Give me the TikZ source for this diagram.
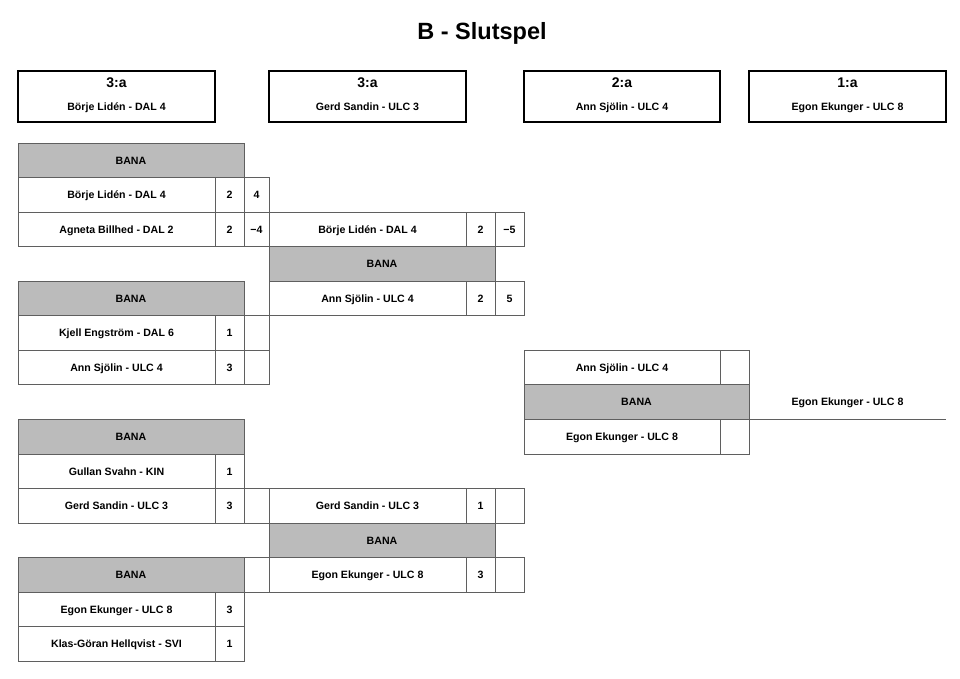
\documentclass[tikz,border=0pt]{standalone}
\usepackage{fontspec}
\setmainfont{Liberation Sans}
\definecolor{gridline}{RGB}{95,95,95}
\definecolor{banagray}{RGB}{187,187,187}
\tikzset{
  cell/.style={draw=gridline, line width=0.8pt, fill=white, inner sep=0pt, outer sep=0pt, text height=7.7pt, text depth=0pt, font=\bfseries\fontsize{10.6}{12}\selectfont},
  banacell/.style={cell, fill=banagray},
  placebox/.style={draw=black, line width=1.3pt, inner sep=0pt, outer sep=0pt},
  firstbox/.style={placebox, line width=2pt},
  placetxt/.style={font=\bfseries\fontsize{14}{16}\selectfont, inner sep=0pt, text height=10pt, text depth=0pt},
  nametxt/.style={font=\bfseries\fontsize{10.6}{12}\selectfont, inner sep=0pt, text height=7.7pt, text depth=0pt},
  titletxt/.style={font=\bfseries\fontsize{23.5}{27}\selectfont, inner sep=0pt},
  finalline/.style={draw=gridline, line width=0.8pt}
}
% #1 style, #2 name, #3 x1, #4 y1, #5 x2, #6 y2, #7 text
\newcommand\cellbox[7]{%
  \pgfmathsetmacro\cbw{#5-#3}\pgfmathsetmacro\cbh{#6-#4}%
  \node[#1, anchor=north west, minimum width=\cbw pt, minimum height=\cbh pt] (#2) at (#3,#4) {#7};}
\begin{document}
\begin{tikzpicture}[x=1pt, y=-1pt]
\useasboundingbox (0,0) rectangle (960,678);
% title
\node[titletxt] (title) at (482,33) {B - Slutspel};
% placement boxes
\cellbox{placebox}{p3a}{18}{71}{215}{122}{}
\cellbox{placebox}{p3b}{269}{71}{466}{122}{}
\cellbox{placebox}{p2}{524}{71}{720}{122}{}
\cellbox{firstbox}{p1}{749}{71}{946}{122}{}
\node[placetxt] (p3aT) at (116.5,82) {3:a};
\node[nametxt] (p3aN) at (116.5,107) {Börje Lidén - DAL 4};
\node[placetxt] (p3bT) at (367.5,82) {3:a};
\node[nametxt] (p3bN) at (367.5,107) {Gerd Sandin - ULC 3};
\node[placetxt] (p2T) at (622,82) {2:a};
\node[nametxt] (p2N) at (622,107) {Ann Sjölin - ULC 4};
\node[placetxt] (p1T) at (847.5,82) {1:a};
\node[nametxt] (p1N) at (847.5,107) {Egon Ekunger - ULC 8};
% ---- Match 1 (rows 0-2)
\cellbox{banacell}{m1b}{18}{143}{244}{177.55}{BANA}
\cellbox{cell}{m1an}{18}{177.55}{215}{212.1}{Börje Lidén - DAL 4}
\cellbox{cell}{m1as}{215}{177.55}{244}{212.1}{2}
\cellbox{cell}{m1at}{244}{177.55}{269}{212.1}{4}
\cellbox{cell}{m1bn}{18}{212.1}{215}{246.65}{Agneta Billhed - DAL 2}
\cellbox{cell}{m1bs}{215}{212.1}{244}{246.65}{2}
\cellbox{cell}{m1bt}{244}{212.1}{269}{246.65}{−4}
% ---- Match 2 (rows 4-6)
\cellbox{banacell}{m2b}{18}{281.2}{244}{315.75}{BANA}
\cellbox{cell}{m2an}{18}{315.75}{215}{350.3}{Kjell Engström - DAL 6}
\cellbox{cell}{m2as}{215}{315.75}{244}{350.3}{1}
\cellbox{cell}{m2at}{244}{315.75}{269}{350.3}{}
\cellbox{cell}{m2bn}{18}{350.3}{215}{384.85}{Ann Sjölin - ULC 4}
\cellbox{cell}{m2bs}{215}{350.3}{244}{384.85}{3}
\cellbox{cell}{m2bt}{244}{350.3}{269}{384.85}{}
% ---- Match 3 (rows 8-10)
\cellbox{banacell}{m3b}{18}{419.4}{244}{453.95}{BANA}
\cellbox{cell}{m3an}{18}{453.95}{215}{488.5}{Gullan Svahn - KIN}
\cellbox{cell}{m3as}{215}{453.95}{244}{488.5}{1}
\cellbox{cell}{m3bn}{18}{488.5}{215}{523.05}{Gerd Sandin - ULC 3}
\cellbox{cell}{m3bs}{215}{488.5}{244}{523.05}{3}
\cellbox{cell}{m3bt}{244}{488.5}{269}{523.05}{}
% ---- Match 4 (rows 12-14)
\cellbox{banacell}{m4b}{18}{557.6}{244}{592.15}{BANA}
\cellbox{cell}{m4x}{244}{557.6}{269}{592.15}{}
\cellbox{cell}{m4an}{18}{592.15}{215}{626.7}{Egon Ekunger - ULC 8}
\cellbox{cell}{m4as}{215}{592.15}{244}{626.7}{3}
\cellbox{cell}{m4bn}{18}{626.7}{215}{661.25}{Klas-Göran Hellqvist - SVI}
\cellbox{cell}{m4bs}{215}{626.7}{244}{661.25}{1}
% ---- Semifinal 1 (rows 2-4)
\cellbox{cell}{s1an}{269}{212.1}{466}{246.65}{Börje Lidén - DAL 4}
\cellbox{cell}{s1as}{466}{212.1}{495}{246.65}{2}
\cellbox{cell}{s1at}{495}{212.1}{524}{246.65}{−5}
\cellbox{banacell}{s1b}{269}{246.65}{495}{281.2}{BANA}
\cellbox{cell}{s1bn}{269}{281.2}{466}{315.75}{Ann Sjölin - ULC 4}
\cellbox{cell}{s1bs}{466}{281.2}{495}{315.75}{2}
\cellbox{cell}{s1bt}{495}{281.2}{524}{315.75}{5}
% ---- Semifinal 2 (rows 10-12)
\cellbox{cell}{s2an}{269}{488.5}{466}{523.05}{Gerd Sandin - ULC 3}
\cellbox{cell}{s2as}{466}{488.5}{495}{523.05}{1}
\cellbox{cell}{s2at}{495}{488.5}{524}{523.05}{}
\cellbox{banacell}{s2b}{269}{523.05}{495}{557.6}{BANA}
\cellbox{cell}{s2bn}{269}{557.6}{466}{592.15}{Egon Ekunger - ULC 8}
\cellbox{cell}{s2bs}{466}{557.6}{495}{592.15}{3}
\cellbox{cell}{s2bt}{495}{557.6}{524}{592.15}{}
% ---- Final (rows 6-8)
\cellbox{cell}{fan}{524}{350.3}{720}{384.85}{Ann Sjölin - ULC 4}
\cellbox{cell}{fas}{720}{350.3}{749}{384.85}{}
\cellbox{banacell}{fb}{524}{384.85}{749}{419.4}{BANA}
\cellbox{cell}{fbn}{524}{419.4}{720}{453.95}{Egon Ekunger - ULC 8}
\cellbox{cell}{fbs}{720}{419.4}{749}{453.95}{}
% winner line
\coordinate (wend) at (946,419.4);
\draw[finalline] (fb.south east) -- (wend);
\node[nametxt] (winner) at (847.5,402) {Egon Ekunger - ULC 8};
\end{tikzpicture}
\end{document}
